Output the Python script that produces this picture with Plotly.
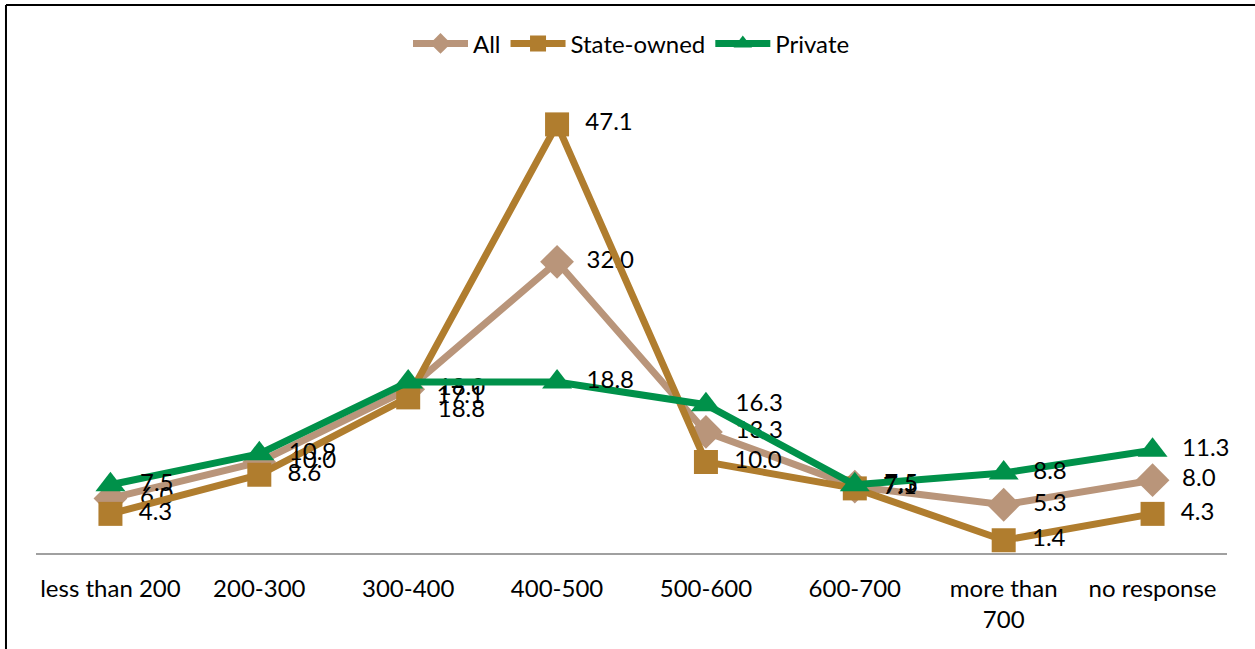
import plotly.graph_objects as go

categories = ["less than 200", "200-300", "300-400", "400-500", "500-600", "600-700", "more than<br>700", "no response"]
all_vals = [6.0, 10.0, 18.0, 32.0, 13.3, 7.3, 5.3, 8.0]
state_vals = [4.3, 8.6, 17.1, 47.1, 10.0, 7.1, 1.4, 4.3]
private_vals = [7.5, 10.9, 18.8, 18.8, 16.3, 7.5, 8.8, 11.3]

FONT = "Lato, Open Sans, sans-serif"

fig = go.Figure()
series = [
    ("All", all_vals, "#B9957A", "diamond", 26),
    ("State-owned", state_vals, "#B07D2E", "square", 24),
    ("Private", private_vals, "#00914A", "triangle-up", 26),
]
for name, vals, col, sym, sz in series:
    pos = ["middle right"] * len(vals)
    if name == "Private":
        pos[2] = "bottom right"
    fig.add_trace(go.Scatter(
        x=categories, y=vals, name=name, mode="lines+markers+text",
        line=dict(color=col, width=7),
        marker=dict(symbol=sym, size=sz, color=col),
        text=[f"  {v:.1f}" for v in vals], textposition=pos,
        textfont=dict(family=FONT, size=24, color="black"),
        cliponaxis=False,
    ))

fig.update_layout(
    width=1255, height=649,
    margin=dict(l=36, r=28, t=98, b=96, autoexpand=False),
    plot_bgcolor="white", paper_bgcolor="white",
    font=dict(family=FONT, size=23, color="black"),
    showlegend=True,
    legend=dict(orientation="h", x=0.5, xanchor="center", y=1.119, yanchor="middle",
                font=dict(family=FONT, size=24), itemwidth=55),
    xaxis=dict(showline=True, linecolor="#A0A0A0", linewidth=2, showgrid=False,
               range=[-0.5, 7.5],
               ticks="", tickfont=dict(family=FONT, size=24), ticklabelstandoff=13,
               zeroline=False),
    yaxis=dict(range=[0, 50], visible=False, showgrid=False, zeroline=False),
    shapes=[
        dict(type="line", xref="paper", yref="paper", x0=-0.0252, x1=1.03, y0=1.2044, y1=1.2044,
             line=dict(color="black", width=2)),
        dict(type="line", xref="paper", yref="paper", x0=-0.0252, x1=-0.0252, y0=1.2044, y1=-0.22,
             line=dict(color="black", width=2)),
    ],
)

fig.write_html("out.html", config={"displayModeBar": False},
               post_script="document.body.style.margin='0px';")
